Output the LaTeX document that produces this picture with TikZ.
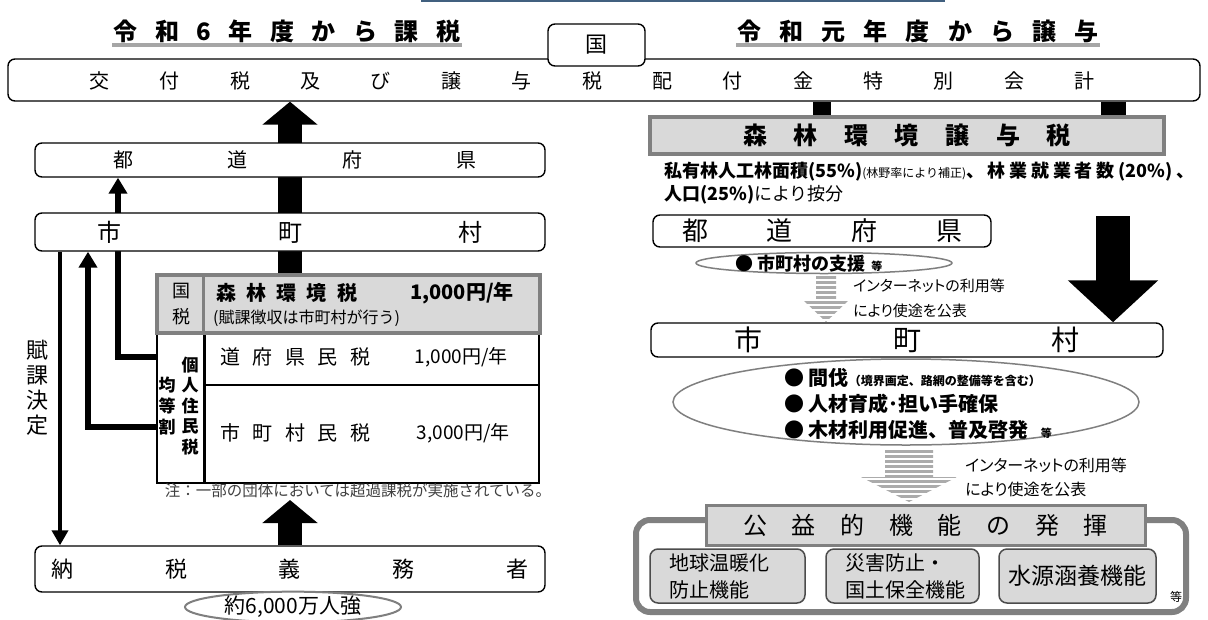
\documentclass[tikz,border=0pt]{standalone}
\usepackage{fontspec}
\setmainfont{Noto Sans CJK JP}
\usetikzlibrary{arrows.meta,backgrounds,shapes.geometric}
\definecolor{lg}{HTML}{D9D9D9}
\definecolor{mg}{HTML}{808080}
\definecolor{ug}{HTML}{A6A6A6}
\definecolor{tb}{HTML}{41607F}
\definecolor{st}{HTML}{ABABAB}
\definecolor{eg}{HTML}{7F7F7F}
\newcommand\fs[1]{\fontsize{#1}{#1}\selectfont}
\newcommand\spr[2]{\makebox[#1pt]{#2}}
\newcommand\stripedarrow[6]{%
  \begin{scope}
    \clip (#1-#5,#2) -- (#1+#5,#2) -- (#1+#5,#3) -- (#1+#6,#3) -- (#1,#4) -- (#1-#6,#3) -- (#1-#5,#3) -- cycle;
    \foreach \yy in {0,5,...,60} {\fill[st] (#1-#6,#2+\yy) rectangle ++(2*#6,3);}
  \end{scope}}
\begin{document}
\begin{tikzpicture}[x=1pt,y=-1pt,inner sep=0pt,font=\fs{18},
  rbox/.style={draw,line width=1.4pt,rounded corners=7pt,fill=white},
  graybox/.style={draw=mg,fill=lg},
  ibox/.style={draw=black!70,fill=lg,line width=1.5pt,rounded corners=8pt,minimum height=54pt},
  pub/.style={font=\fontsize{15}{25}\selectfont\addfontfeatures{RawFeature=+palt},align=left,anchor=west},
  bigarrow/.style={line width=24pt,-{Triangle[width=54pt,length=23pt]}},
  thickline/.style={line width=6pt,-{Triangle[width=18pt,length=16pt]}}]
\useasboundingbox (0,0) rectangle (1208,619);
% top strip
\draw[tb,line width=2pt] (422,-3) -- (422,1) -- (944,1) -- (944,-3);
% titles
\node[font=\bfseries\fs{24}] (t1) at (287,31) {\spr{347}{令\hfill 和\hfill 6\hfill 年\hfill 度\hfill か\hfill ら\hfill 課\hfill 税}};
\draw[ug,line width=3.5pt] (112,45) -- (462,45);
\node[font=\bfseries\fs{24}] (t2) at (918,31) {\spr{361}{令\hfill 和\hfill 元\hfill 年\hfill 度\hfill か\hfill ら\hfill 譲\hfill 与}};
\draw[ug,line width=3.5pt] (736,45) -- (1100,45);
% national bar
\node[rbox,minimum width=1192pt,minimum height=42pt,font=\fs{20}] (bar) at (604,80) {};
\node[font=\fs{20}] (bart) at (592,81) {\spr{1005}{交\hfill 付\hfill 税\hfill 及\hfill び\hfill 譲\hfill 与\hfill 税\hfill 配\hfill 付\hfill 金\hfill 特\hfill 別\hfill 会\hfill 計}};
\node[rbox,minimum width=97pt,minimum height=42pt,font=\fs{22}] (kuni) at (596.5,45) {国};
% left column
\node[rbox,minimum width=510pt,minimum height=34pt] (prefL) at (290,160) {};
\node[font=\fs{20}] (prefLt) at (295,160) {\spr{363}{都\hfill 道\hfill 府\hfill 県}};
\node[rbox,minimum width=510pt,minimum height=38pt,font=\fs{24}] (cityL) at (290,232) {\spr{385}{市\hfill 町\hfill 村}};
\node[draw,line width=1.5pt,fill=white,minimum width=382pt,minimum height=150pt] (tbl) at (348,408) {};
\draw[line width=3pt] (204,333) -- (204,483);
\draw[line width=2.5pt] (204,385) -- (539,385);
\node[graybox,line width=3.5pt,minimum width=383pt,minimum height=58pt] (nat) at (348.5,304) {};
\draw[mg,line width=3pt] (203,275) -- (203,333);
\node[font=\fontsize{18}{26}\selectfont,align=center] (natk) at (181,304) {国\\税};
\node[font=\bfseries\fs{20},anchor=west] (natn) at (216,293) {\spr{141}{森\hfill 林\hfill 環\hfill 境\hfill 税}};
\node[font=\bfseries\fs{20},anchor=east] (nata) at (514,293) {1,000円/年};
\node[font=\fs{16},anchor=west] (natc) at (213,318) {(賦課徴収は市町村が行う)};
\node[font=\fs{20},anchor=west] (r1a) at (220,357) {\spr{150}{道\hfill 府\hfill 県\hfill 民\hfill 税}};
\node[font=\fs{19},anchor=east] (r1b) at (508,357) {1,000円/年};
\node[font=\fs{20},anchor=west] (r2a) at (220,433) {\spr{150}{市\hfill 町\hfill 村\hfill 民\hfill 税}};
\node[font=\fs{19},anchor=east] (r2b) at (510,433) {3,000円/年};
\node[font=\bfseries\fontsize{17}{20.5}\selectfont,align=center] (kojin) at (190,406) {個\\人\\住\\民\\税};
\node[font=\bfseries\fontsize{17}{21}\selectfont,align=center] (kinto) at (167,406) {均\\等\\割};
\node[font=\fs{15.5},text=black!75] (note) at (358,491) {注：一部の団体においては超過課税が実施されている。};
\node[font=\fontsize{22}{25}\selectfont,align=center] (fuka) at (38,388) {賦\\課\\決\\定};
\node[rbox,minimum width=510pt,minimum height=46pt,font=\fs{22}] (payer) at (290,569) {\spr{477}{納\hfill 税\hfill 義\hfill 務\hfill 者}};
\node[ellipse,draw=eg,line width=2pt,fill=white,minimum width=216pt,minimum height=22pt,font=\fs{21}] (pop) at (293,607) {約6,000万人強};
\coordinate (a2tip) at (290,500);
% right column
\node[graybox,line width=4pt,minimum width=514pt,minimum height=37pt,font=\bfseries\fs{24}] (joyo) at (907,135.5) {\spr{328}{森\hfill 林\hfill 環\hfill 境\hfill 譲\hfill 与\hfill 税}};
\node[anchor=west,font=\fs{18}] (ratio1) at (664,172) {\textbf{私有林人工林面積(55\%)}{\fs{12}(林野率により補正)}\spr{228}{\bfseries 、\hfill 林\hfill 業\hfill 就\hfill 業\hfill 者\hfill 数\hfill (20\%)\hfill 、}};
\node[anchor=west,font=\fs{18}] (ratio2) at (664,195) {\textbf{人口(25\%)}により按分};
\node[rbox,minimum width=338pt,minimum height=32pt,font=\fs{26}] (prefR) at (822,231) {\spr{280}{都\hfill 道\hfill 府\hfill 県}};
\node[ellipse,draw=eg,line width=1.5pt,fill=white,minimum width=256pt,minimum height=21pt] (e1) at (824,263) {};
\node[anchor=west,font=\bfseries\fs{18}] (e1t) at (735,264) {● 市町村の支援\hspace{6pt}{\fs{11}等}};
\stripedarrow{826}{276}{300}{322}{10}{23}
\node[pub] (s1t) at (853,298) {インターネットの利用等\\により使途を公表};
\coordinate (bst) at (1113,216);
\node[rbox,minimum width=512pt,minimum height=34pt,font=\fs{28}] (cityR) at (907,340) {\spr{345}{市\hfill 町\hfill 村}};
\node[ellipse,draw=eg,line width=1.5pt,fill=white,minimum width=466pt,minimum height=86pt] (e2) at (906,402) {};
\node[anchor=west,font=\bfseries\fs{20}] (m1) at (784,378) {● 間伐{\fs{12}（境界画定、路網の整備等を含む）}};
\node[anchor=west,font=\bfseries\fs{20}] (m2) at (784,404) {● 人材育成･担い手確保};
\node[anchor=west,font=\bfseries\fs{20}] (m3) at (784,430) {● 木材利用促進、普及啓発\hspace{12pt}{\fs{11}等}};
\stripedarrow{909}{450}{477}{502}{24}{48}
\node[pub,font=\fontsize{16}{24}\selectfont\addfontfeatures{RawFeature=+palt}] (s2t) at (965,477) {インターネットの利用等\\により使途を公表};
\node[draw=mg,line width=6pt,rounded corners=14pt,fill=white,minimum width=550pt,minimum height=92pt] (frame) at (911,566) {};
\node[graybox,line width=3pt,minimum width=439pt,minimum height=40pt,font=\fs{24}] (koeki) at (925.5,525) {\spr{365}{公\hfill 益\hfill 的\hfill 機\hfill 能\hfill の\hfill 発\hfill 揮}};
\node[ibox,minimum width=155pt] (f1) at (727.5,576) {};
\node[anchor=west,font=\fontsize{20}{27}\selectfont,align=left] (f1t) at (669,576) {地球温暖化\\防止機能};
\node[ibox,minimum width=153pt] (f2) at (902.5,576) {};
\node[anchor=west,font=\fontsize{20}{27}\selectfont,align=left] (f2t) at (845,576) {災害防止・\\国土保全機能};
\node[ibox,minimum width=157pt,font=\fs{23}] (f3) at (1077.5,576) {水源涵養機能};
\node[font=\fs{12}] (etc) at (1176,597) {等};
% connectors behind boxes
\begin{scope}[on background layer]
  \draw[bigarrow] (290,0 |- nat.north) -- (290,0 |- bar.south);
  \draw[bigarrow] (290,0 |- payer.north) -- (a2tip);
  \draw[thickline] (tbl.west |- r1a) -- (118,357) -- (118,0 |- prefL.south);
  \draw[thickline] (157,427) -- (88,427) -- (88,0 |- cityL.south);
  \draw[line width=4.5pt,-{Triangle[width=16pt,length=15pt]}] (60,0 |- cityL.south) -- (60,0 |- payer.north);
  \draw[line width=18pt] (822,0 |- bar.south) -- (822,0 |- joyo.north);
  \draw[line width=25pt] (1113,0 |- bar.south) -- (1113,0 |- joyo.north);
  \draw[line width=34pt,-{Triangle[width=88pt,length=42pt]}] (bst) -- (1113,0 |- cityR.north);
\end{scope}
\end{tikzpicture}
\end{document}
